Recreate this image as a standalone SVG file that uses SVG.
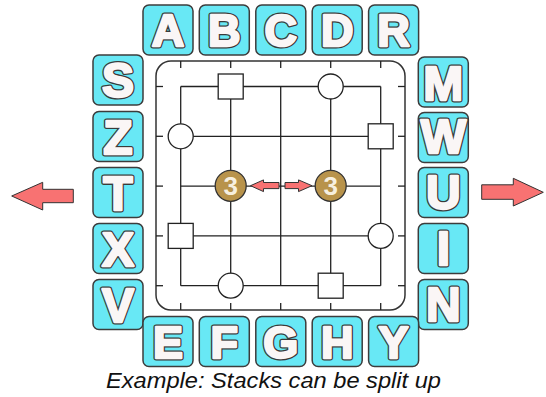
<svg xmlns="http://www.w3.org/2000/svg" width="546" height="397" viewBox="0 0 546 397">
  <style>
    .box { fill: #68e8f5; stroke: #3c3c3c; stroke-width: 1.5; }
    .tile text { font-family: "Liberation Sans", Arial, sans-serif; font-weight: bold; font-size: 45px; text-anchor: middle; stroke-linejoin: round; }
    .tile .edge { fill: #3a3a3a; stroke: #3a3a3a; stroke-width: 5; }
    .tile .face { fill: #faf6f6; stroke: #faf6f6; stroke-width: 2.4; }
    .side text { font-size: 48px; }
    .grid line { stroke: #222; stroke-width: 1.3; }
    .tick line { stroke: #222; stroke-width: 1.3; }
    .piece { fill: #fff; stroke: #222; stroke-width: 1.3; }
    .coin-disc { fill: #b8934b; stroke: #333; stroke-width: 1.3; }
    .coin-num { font-family: "Liberation Sans", Arial, sans-serif; font-weight: bold; fill: #f6efdf; text-anchor: middle; }
    .arrow { fill: #f87272; stroke: #333; stroke-width: 1; }
    .caption { font-family: "Liberation Sans", Arial, sans-serif; font-style: italic; font-size: 22px; fill: #111; }
  </style>

  <!-- board -->
  <g id="board">
    <rect x="156" y="61" width="249" height="249" rx="15" fill="#fff" stroke="#333" stroke-width="1.5"/>
    <g class="tick">
      <line x1="180.7" y1="61" x2="180.7" y2="68"/><line x1="230.7" y1="61" x2="230.7" y2="68"/>
      <line x1="280.7" y1="61" x2="280.7" y2="68"/><line x1="330.7" y1="61" x2="330.7" y2="68"/>
      <line x1="380.7" y1="61" x2="380.7" y2="68"/>
      <line x1="180.7" y1="303" x2="180.7" y2="310"/><line x1="230.7" y1="303" x2="230.7" y2="310"/>
      <line x1="280.7" y1="303" x2="280.7" y2="310"/><line x1="330.7" y1="303" x2="330.7" y2="310"/>
      <line x1="380.7" y1="303" x2="380.7" y2="310"/>
      <line x1="156" y1="86.5" x2="163" y2="86.5"/><line x1="156" y1="136.3" x2="163" y2="136.3"/>
      <line x1="156" y1="186.1" x2="163" y2="186.1"/><line x1="156" y1="235.9" x2="163" y2="235.9"/>
      <line x1="156" y1="285.7" x2="163" y2="285.7"/>
      <line x1="398" y1="86.5" x2="405" y2="86.5"/><line x1="398" y1="136.3" x2="405" y2="136.3"/>
      <line x1="398" y1="186.1" x2="405" y2="186.1"/><line x1="398" y1="235.9" x2="405" y2="235.9"/>
      <line x1="398" y1="285.7" x2="405" y2="285.7"/>
    </g>
    <g class="grid">
      <line x1="180.7" y1="86.5" x2="180.7" y2="285.7"/><line x1="230.7" y1="86.5" x2="230.7" y2="285.7"/>
      <line x1="280.7" y1="86.5" x2="280.7" y2="285.7"/><line x1="330.7" y1="86.5" x2="330.7" y2="285.7"/>
      <line x1="380.7" y1="86.5" x2="380.7" y2="285.7"/>
      <line x1="180.7" y1="86.5" x2="380.7" y2="86.5"/><line x1="180.7" y1="136.3" x2="380.7" y2="136.3"/>
      <line x1="180.7" y1="186.1" x2="380.7" y2="186.1"/><line x1="180.7" y1="235.9" x2="380.7" y2="235.9"/>
      <line x1="180.7" y1="285.7" x2="380.7" y2="285.7"/>
    </g>
  </g>

  <!-- pieces -->
  <g id="pieces">
    <rect class="piece" x="218.2" y="74" width="25" height="25"/>
    <circle class="piece" cx="330.7" cy="86.5" r="12.5"/>
    <circle class="piece" cx="180.7" cy="136.3" r="12.5"/>
    <rect class="piece" x="368.2" y="123.8" width="25" height="25"/>
    <rect class="piece" x="168.2" y="223.4" width="25" height="25"/>
    <circle class="piece" cx="380.7" cy="235.9" r="12.5"/>
    <circle class="piece" cx="230.7" cy="285.7" r="12.5"/>
    <rect class="piece" x="318.2" y="273.2" width="25" height="25"/>
  </g>

  <!-- stacks -->
  <g id="stack-left">
    <circle class="coin-disc" cx="230.7" cy="185.8" r="15.5"/>
    <text class="coin-num" x="230.7" y="195.2" font-size="26">3</text>
  </g>
  <g id="stack-right">
    <circle class="coin-disc" cx="330.7" cy="185.8" r="15.5"/>
    <text class="coin-num" x="330.7" y="195.2" font-size="26">3</text>
  </g>

  <!-- arrows -->
  <g id="connectors">
    <polygon class="arrow" points="250.5,185.7 263.5,179.9 263.5,182.5 279,182.5 279,188.6 263.5,188.6 263.5,191.6"/>
    <polygon class="arrow" points="312,185.7 298.5,179.9 298.5,182.5 285,182.5 285,188.6 298.5,188.6 298.5,191.6"/>
    <polygon class="arrow" points="11.7,196 42.7,182.3 42.7,189.3 73.3,189.3 73.3,202.7 42.7,202.7 42.7,210"/>
    <polygon class="arrow" points="543.3,192.3 513.3,178.3 513.3,184.8 481.7,184.8 481.7,199.3 513.3,199.3 513.3,206"/>
  </g>

  <!-- top row -->
  <g id="tile-A" class="tile" transform="translate(143,5)"><rect class="box" width="50" height="50" rx="6"/><text class="edge" x="25" y="41">A</text><text class="face" x="25" y="41">A</text></g>
  <g id="tile-B" class="tile" transform="translate(199.3,5)"><rect class="box" width="50" height="50" rx="6"/><text class="edge" x="25" y="41">B</text><text class="face" x="25" y="41">B</text></g>
  <g id="tile-C" class="tile" transform="translate(255.8,5)"><rect class="box" width="50" height="50" rx="6"/><text class="edge" x="25" y="41">C</text><text class="face" x="25" y="41">C</text></g>
  <g id="tile-D" class="tile" transform="translate(312.2,5)"><rect class="box" width="50" height="50" rx="6"/><text class="edge" x="25" y="41">D</text><text class="face" x="25" y="41">D</text></g>
  <g id="tile-R" class="tile" transform="translate(368.6,5)"><rect class="box" width="50" height="50" rx="6"/><text class="edge" x="25" y="41">R</text><text class="face" x="25" y="41">R</text></g>

  <!-- left column -->
  <g id="tile-S" class="tile side" transform="translate(93,55)"><rect class="box" width="50" height="50" rx="6"/><text class="edge" x="25" y="42">S</text><text class="face" x="25" y="42">S</text></g>
  <g id="tile-Z" class="tile side" transform="translate(93,111.5)"><rect class="box" width="50" height="50" rx="6"/><text class="edge" x="25" y="42">Z</text><text class="face" x="25" y="42">Z</text></g>
  <g id="tile-T" class="tile side" transform="translate(93,167.5)"><rect class="box" width="50" height="50" rx="6"/><text class="edge" x="25" y="42">T</text><text class="face" x="25" y="42">T</text></g>
  <g id="tile-X" class="tile side" transform="translate(93,223.5)"><rect class="box" width="50" height="50" rx="6"/><text class="edge" x="25" y="42">X</text><text class="face" x="25" y="42">X</text></g>
  <g id="tile-V" class="tile side" transform="translate(93,279.5)"><rect class="box" width="50" height="50" rx="6"/><text class="edge" x="25" y="42">V</text><text class="face" x="25" y="42">V</text></g>

  <!-- right column -->
  <g id="tile-M" class="tile side" transform="translate(418.3,57)"><rect class="box" width="50" height="50" rx="6"/><text class="edge" x="25" y="42.5">M</text><text class="face" x="25" y="42.5">M</text></g>
  <g id="tile-W" class="tile side" transform="translate(418.3,112.5)"><rect class="box" width="50" height="50" rx="6"/><text class="edge" x="25" y="40">W</text><text class="face" x="25" y="40">W</text></g>
  <g id="tile-U" class="tile side" transform="translate(418.3,167.5)"><rect class="box" width="50" height="50" rx="6"/><text class="edge" x="25" y="41.5">U</text><text class="face" x="25" y="41.5">U</text></g>
  <g id="tile-I" class="tile side" transform="translate(418.3,223.5)"><rect class="box" width="50" height="50" rx="6"/><text class="edge" x="25" y="41.5">I</text><text class="face" x="25" y="41.5">I</text></g>
  <g id="tile-N" class="tile side" transform="translate(418.3,279.5)"><rect class="box" width="50" height="50" rx="6"/><text class="edge" x="25" y="41.5">N</text><text class="face" x="25" y="41.5">N</text></g>

  <!-- bottom row -->
  <g id="tile-E" class="tile" transform="translate(143,316.5)"><rect class="box" width="50" height="50" rx="6"/><text class="edge" x="25" y="41">E</text><text class="face" x="25" y="41">E</text></g>
  <g id="tile-F" class="tile" transform="translate(199.3,316.5)"><rect class="box" width="50" height="50" rx="6"/><text class="edge" x="25" y="41">F</text><text class="face" x="25" y="41">F</text></g>
  <g id="tile-G" class="tile" transform="translate(255.8,316.5)"><rect class="box" width="50" height="50" rx="6"/><text class="edge" x="25" y="41">G</text><text class="face" x="25" y="41">G</text></g>
  <g id="tile-H" class="tile" transform="translate(312.2,316.5)"><rect class="box" width="50" height="50" rx="6"/><text class="edge" x="25" y="41">H</text><text class="face" x="25" y="41">H</text></g>
  <g id="tile-Y" class="tile" transform="translate(368.6,316.5)"><rect class="box" width="50" height="50" rx="6"/><text class="edge" x="25" y="41">Y</text><text class="face" x="25" y="41">Y</text></g>

  <text class="caption" x="106" y="388" textLength="335" lengthAdjust="spacingAndGlyphs">Example: Stacks can be split up</text>
</svg>
